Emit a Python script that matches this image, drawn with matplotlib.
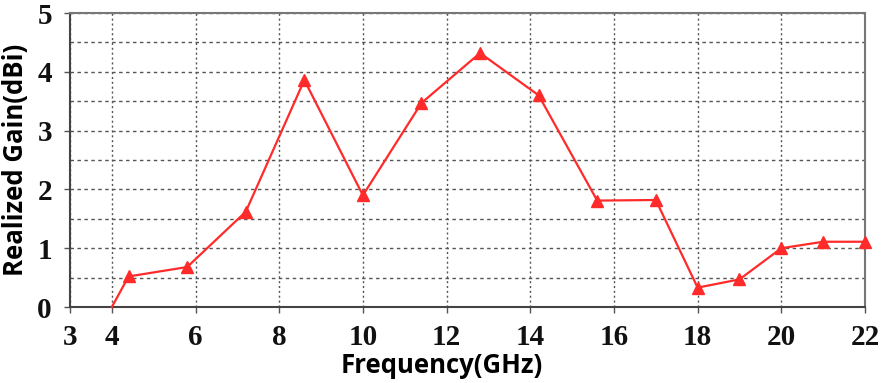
import matplotlib.pyplot as plt
import numpy as np

# values
freq = [4, 4.4, 5.8, 7.2, 8.6, 10.0, 11.4, 12.8, 14.2, 15.6, 17.0, 18.0, 19.0, 20.0, 21.0, 22.0]
gain = [0.0, 0.52, 0.68, 1.62, 3.86, 1.9, 3.47, 4.32, 3.6, 1.81, 1.82, 0.33, 0.47, 1.0, 1.11, 1.11]
x_ticks = [3, 4, 6, 8, 10, 12, 14, 16, 18, 20, 22]
y_ticks = [0, 1, 2, 3, 4, 5]

fig = plt.figure(figsize=(8.84, 3.83), dpi=100)
ax = fig.add_axes([0.0792, 0.1984, 0.8993, 0.7676])

ax.plot(freq, gain, color='#ff2a2a', lw=1.6, marker='^', ms=8,
        markevery=list(range(1, len(freq))), clip_on=False, zorder=5)

ax.set_xlim(3, 22)
ax.set_ylim(0, 5)
ax.set_xticks(x_ticks)
ax.set_yticks(y_ticks)
ax.set_yticks(np.arange(0.5, 5, 1.0), minor=True)

# grids: dotted verticals, dashed horizontals
ax.grid(axis='x', which='major', ls=(0, (1.5, 2)), color='#555555', lw=1.0)
ax.grid(axis='y', which='both', ls=(0, (2.5, 2.5)), color='#555555', lw=1.0)
ax.tick_params(axis='y', which='minor', length=0)

ax.tick_params(axis='both', which='major', direction='out', length=4, width=1,
               color='#555555')
ax.tick_params(axis='x', pad=8)
ax.tick_params(axis='y', pad=9)
for lab in ax.get_xticklabels() + ax.get_yticklabels():
    lab.set_fontfamily('Liberation Serif')
    lab.set_fontweight('bold')
    lab.set_fontsize(21)
    lab.set_color('#111111')

for side in ['left', 'bottom']:
    ax.spines[side].set_color('#444444')
    ax.spines[side].set_linewidth(1.5)
for side in ['top', 'right']:
    ax.spines[side].set_color('#777777')
    ax.spines[side].set_linewidth(1.5)

ax.set_xlabel('Frequency(GHz)', fontfamily='Open Sans', fontweight='bold',
              fontsize=18.5)
ax.xaxis.set_label_coords(0.468, -0.152)
ax.set_ylabel('Realized Gain(dBi)', fontfamily='Open Sans', fontweight='bold',
              fontsize=18.5, labelpad=6)

fig.savefig('out.png', dpi=100)
